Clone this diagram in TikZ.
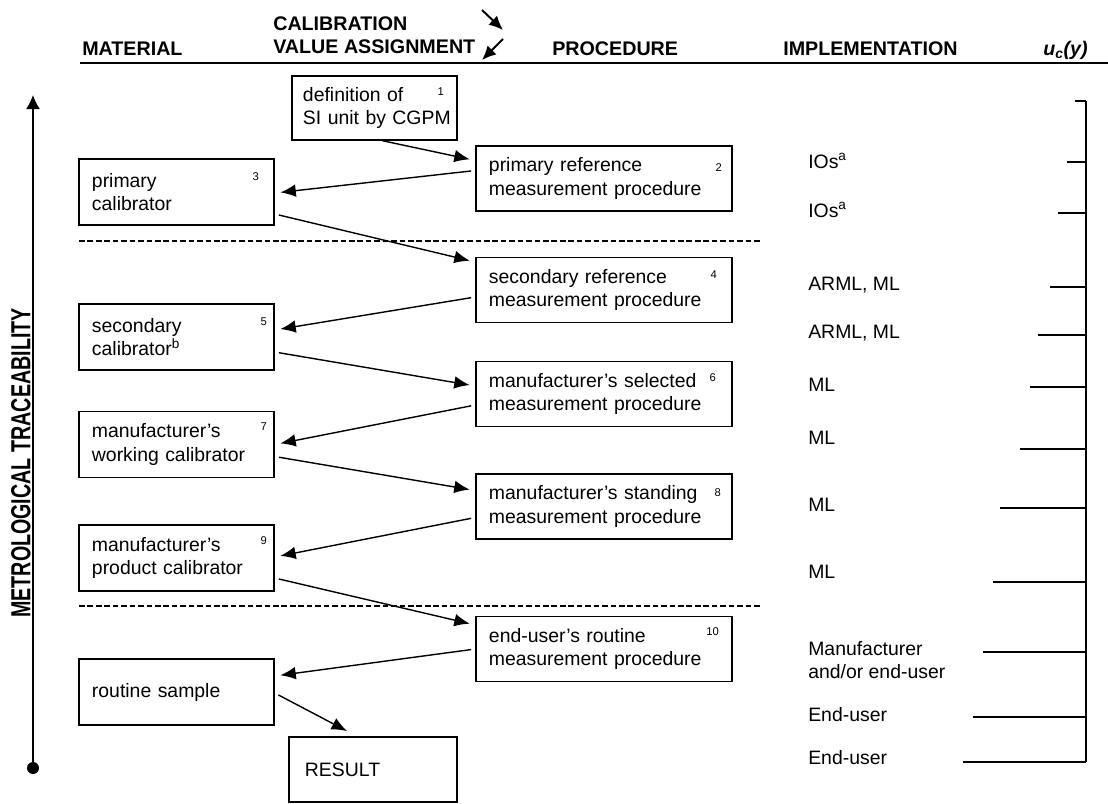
\documentclass[tikz,border=0pt]{standalone}
\usepackage{fontspec}
\setmainfont{Liberation Sans}
\usepackage{graphicx}
\usetikzlibrary{arrows.meta,calc}

\tikzset{
  matbox/.style={draw, line width=1pt, align=left, minimum width=4.875cm, minimum height=1.65cm, text width=4.225cm, inner xsep=0.325cm},
  procbox/.style={draw, line width=1pt, align=left, minimum width=6.4cm, minimum height=1.625cm, text width=5.75cm, inner xsep=0.325cm},
  refnum/.style={font=\fontsize{8}{8}\selectfont, inner sep=0pt},
  head/.style={font=\bfseries\fontsize{14}{16}\selectfont, anchor=base west, inner sep=0pt},
  impl/.style={anchor=west, align=left, inner sep=0pt},
  flow/.style={-{Latex[length=11pt,width=9pt]}, line width=1pt, shorten <=3pt, shorten >=4pt},
  cutline/.style={line width=0.8pt, dash pattern=on 4pt off 2pt}
}

\begin{document}
\begin{tikzpicture}[x=0.025cm, y=-0.025cm, font=\fontsize{13.8}{16.4}\selectfont]
\useasboundingbox (0,0) rectangle (1108,803);

% Column headings
\node[head] (hmat) at (82,55) {MATERIAL};
\node[head] (hcal) at (273,30) {CALIBRATION};
\node[head] (hval) at (273,53) {VALUE ASSIGNMENT};
\node[head] (hproc) at (552,55) {PROCEDURE};
\node[head] (himpl) at (783,55) {IMPLEMENTATION};
\node[head, anchor=base east] (hunc) at (1088,55) {\itshape u\textsubscript{c}(y)};
\draw[line width=1.3pt] (80,63) -- (1108,63);

% Direction marks next to the heading
\coordinate (ha1) at (482,10); \coordinate (ha2) at (503,30);
\coordinate (hb1) at (503,39); \coordinate (hb2) at (482,60);
\draw[-{Latex[length=10pt,width=9pt]}, line width=1.4pt] (ha1) -- (ha2);
\draw[-{Latex[length=10pt,width=9pt]}, line width=1.4pt] (hb1) -- (hb2);

% Boxes of the chain
\node[draw, line width=1pt, align=left, minimum width=4.125cm, minimum height=1.6cm, text width=3.575cm, inner xsep=0.275cm] (b1) at (374.5,108) {definition of\\\mbox{SI unit by CGPM}};
\node[procbox] (b2) at (604,178.5) {primary reference\\measurement procedure};
\node[matbox] (b3) at (176.5,192) {primary\\calibrator};
\node[procbox] (b4) at (604,290) {secondary reference\\measurement procedure};
\node[matbox] (b5) at (176.5,337) {secondary\\calibrator\textsuperscript{b}};
\node[procbox] (b6) at (604,394) {manufacturer's selected\\measurement procedure};
\node[matbox] (b7) at (176.5,444.5) {manufacturer's\\working calibrator};
\node[procbox] (b8) at (604,506.5) {manufacturer's standing\\measurement procedure};
\node[matbox] (b9) at (176.5,558) {manufacturer's\\product calibrator};
\node[procbox] (b10) at (604,649) {end-user's routine\\measurement procedure};
\node[matbox] (sample) at (176.5,692) {routine sample};
\node[draw, line width=1pt, align=left, minimum width=4.2cm, minimum height=1.625cm, text width=3.4cm, inner xsep=0.4cm] (result) at (373,769.5) {RESULT};

% Step numbers
\foreach \b/\n/\dx/\dy in {b1/1/17/16, b2/2/14/22, b3/3/19/18, b4/4/19/18, b5/5/11/18, b6/6/20/17, b7/7/11/16, b8/8/15/19, b9/9/11/16, b10/10/20/16}
    \node[refnum] (n\n) at ($(\b.north east)+(-\dx,\dy)$) {\n};

% Connections
\draw[flow, shorten <=0pt] ($(b1.south)+(8,0)$) -- ($(b2.west)+(0,-18)$);
\draw[flow] ($(b2.west)+(0,-8)$) -- ($(b3.east)+(0,1)$);
\draw[flow] ($(b3.east)+(0,22)$) -- ($(b4.west)+(0,-28)$);
\draw[flow] ($(b4.west)+(0,7)$) -- ($(b5.east)+(0,-7)$);
\draw[flow] ($(b5.east)+(0,15)$) -- ($(b6.west)+(0,-8)$);
\draw[flow] ($(b6.west)+(0,11)$) -- (b7.east);
\draw[flow] ($(b7.east)+(0,12)$) -- ($(b8.west)+(0,-16)$);
\draw[flow] ($(b8.west)+(0,11)$) -- ($(b9.east)+(0,-1)$);
\draw[flow] ($(b9.east)+(0,20)$) -- ($(b10.west)+(0,-24)$);
\draw[flow] (b10.west) -- ($(sample.east)+(0,-16)$);
\draw[flow, shorten >=8pt] ($(sample.east)+(0,1)$) -- ($(result.north)+(-16,0)$);

% Separators
\draw[cutline] (79,241) -- (760,241);
\draw[cutline] (79,606) -- (760,606);

% Traceability axis
\node[circle, fill, inner sep=0pt, minimum size=0.3cm] (trdot) at (33,768) {};
\coordinate (trtop) at (33,95);
\draw[-{Latex[length=10pt,width=10pt]}, line width=1.1pt] (trdot) -- (trtop);
\node[rotate=90, anchor=south, inner sep=0pt, font=\bfseries\fontsize{14}{14}\selectfont] (trlabel) at (31,463) {\scalebox{1}[1.4]{METROLOGICAL TRACEABILITY}};

% Implementation
\foreach \y/\t [count=\i] in {161/IOs\textsuperscript{a}, 210/IOs\textsuperscript{a}, 285/{ARML, ML}, 333/{ARML, ML}, 385/ML, 438/ML, 505/ML, 572/ML, 660/{Manufacturer\\and/or end-user}, 715/End-user, 758/End-user}
    \node[impl] (im\i) at (808,\y) {\t};

% Uncertainty scale
\foreach \y/\x in {101/1075, 162/1067, 213/1058, 287/1050, 335/1038, 387/1030, 449/1020, 508/1000, 582/993, 652/983, 717/973, 762/963}
    \draw[line width=1pt] (\x,\y) -- (1086,\y);
\draw[line width=1pt] (1086,101) -- (1086,762);
\end{tikzpicture}
\end{document}
